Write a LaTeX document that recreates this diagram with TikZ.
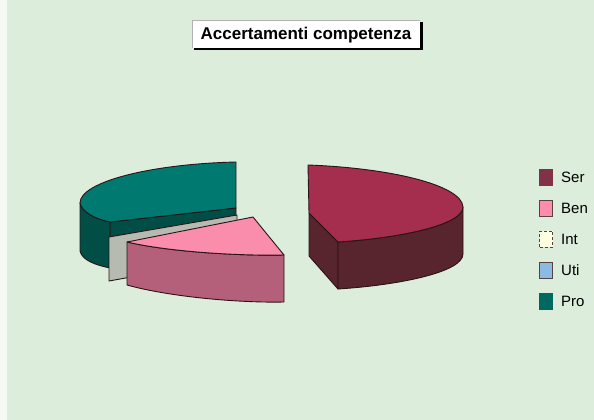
\documentclass[tikz,border=0pt]{standalone}
\usepackage{fontspec}
\setmainfont{Liberation Sans}
\definecolor{bg}{RGB}{221,237,220}
\definecolor{sertop}{RGB}{165,45,78}
\definecolor{serside}{RGB}{88,36,45}
\definecolor{bentop}{RGB}{250,140,172}
\definecolor{benside}{RGB}{180,96,122}
\definecolor{protop}{RGB}{0,122,112}
\definecolor{proside}{RGB}{0,78,70}
\definecolor{gapgray}{RGB}{182,186,176}
\definecolor{serleg}{RGB}{130,50,72}
\definecolor{benleg}{RGB}{255,140,172}
\definecolor{intleg}{RGB}{255,255,226}
\definecolor{utileg}{RGB}{140,186,226}
\definecolor{proleg}{RGB}{0,105,95}
\definecolor{edge}{RGB}{40,20,22}
\tikzset{
  slice/.style={draw=edge, line width=0.9pt, line join=round},
  legbox/.style={draw=edge!80, line width=0.8pt, minimum width=13pt, minimum height=16pt, inner sep=0pt},
  legtext/.style={anchor=west, inner sep=0pt, font=\fontsize{15}{17}\selectfont},
}
\begin{document}
\begin{tikzpicture}[x=1pt,y=-1pt]
\useasboundingbox (0,0) rectangle (594,420);
\fill[bg] (0,0) rectangle (594,420);
\fill[white!70!bg] (0,0) rectangle (7,420);
% title
\fill[black] (194,22) rectangle (423,50);
\fill[white] (192,20) rectangle (420,48);
\draw[gray!60, line width=0.6pt] (192,48) -- (192,20) -- (420,20);
\node[font=\bfseries\fontsize{17}{19}\selectfont, inner sep=0pt] (title) at (306,35) {Accertamenti competenza};
% Pro slice (teal)
\draw[slice, fill=proside] (110,222) -- (236,208) -- (236,255) -- (110,268) -- cycle;
\draw[slice, fill=proside] (80,203) .. controls (82,212) and (95,219) .. (110,222) -- (110,268) .. controls (95,265) and (82,260) .. (80,251) -- cycle;
\draw[slice, fill=protop] (236,162) .. controls (150,164) and (80,182) .. (80,203) .. controls (82,212) and (95,219) .. (110,222) -- (236,208) -- cycle;
% Int/Uti sliver (gray)
\draw[slice, fill=gapgray] (109,237) -- (237,215) -- (237,258) -- (109,281) -- cycle;
% Ben slice (pink)
\draw[slice, fill=benside] (127,242) .. controls (170,252) and (240,256) .. (284,255) -- (284,302) .. controls (240,303) and (170,297) .. (127,285) -- cycle;
\draw[slice, fill=bentop] (127,242) -- (253,217) -- (284,255) .. controls (240,256) and (170,252) .. (127,242) -- cycle;
% Ser slice (maroon)
\draw[slice, fill=serside] (309,213) -- (338,242) -- (338,289) -- (309,256) -- cycle;
\draw[slice, fill=serside] (338,242) .. controls (400,238) and (463,225) .. (463,207) -- (463,254) .. controls (463,272) and (400,285) .. (338,289) -- cycle;
\draw[slice, fill=sertop] (308,165) .. controls (390,168) and (462,185) .. (463,207) .. controls (463,225) and (400,238) .. (338,242) -- (309,213) -- cycle;
% legend
\node[legbox, fill=serleg, draw=serleg] (kser) at (546,177) {};
\node[legtext] (tser) at (561,177) {Ser};
\node[legbox, fill=benleg] (kben) at (546,208) {};
\node[legtext] (tben) at (561,208) {Ben};
\node[legbox, fill=intleg, densely dashed] (kint) at (546,239) {};
\node[legtext] (tint) at (561,239) {Int};
\node[legbox, fill=utileg] (kuti) at (546,270) {};
\node[legtext] (tuti) at (561,270) {Uti};
\node[legbox, fill=proleg, draw=proleg] (kpro) at (546,301) {};
\node[legtext] (tpro) at (561,301) {Pro};
\end{tikzpicture}
\end{document}
